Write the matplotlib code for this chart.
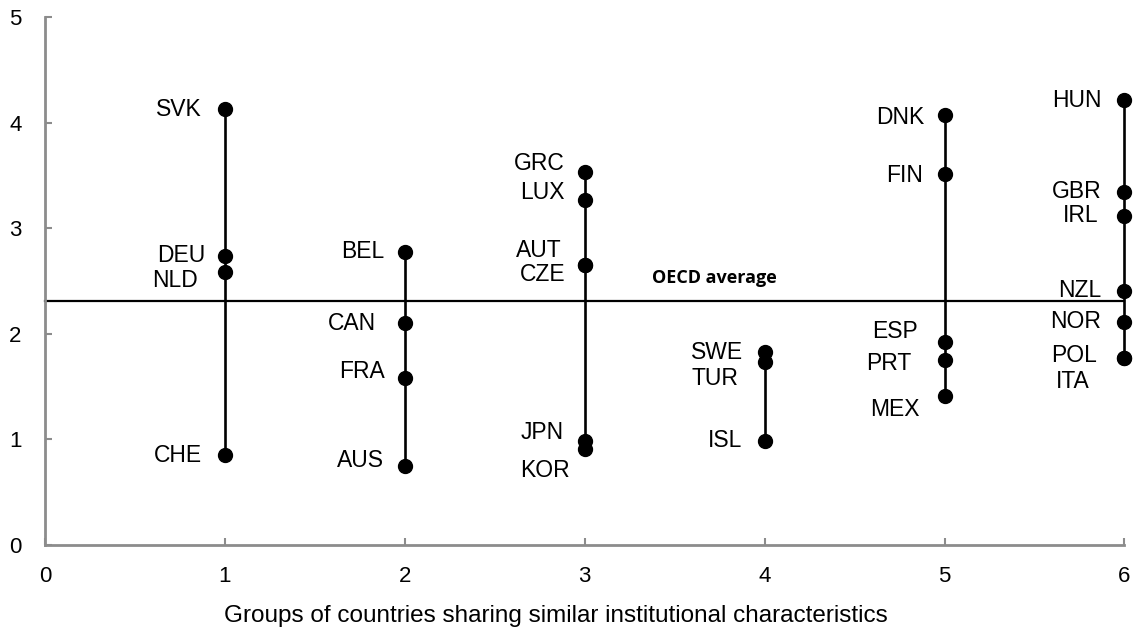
import matplotlib
matplotlib.use("Agg")
import matplotlib.pyplot as plt

plt.rcParams['font.family'] = ['Liberation Sans', 'DejaVu Sans']

# groupes de pays et valeurs
groups = [1, 2, 3, 4, 5, 6]
group_countries = [
    ["SVK", "DEU", "NLD", "CHE"],
    ["BEL", "CAN", "FRA", "AUS"],
    ["GRC", "LUX", "AUT", "CZE", "JPN", "KOR"],
    ["SWE", "TUR", "ISL"],
    ["DNK", "FIN", "ESP", "PRT", "MEX"],
    ["HUN", "GBR", "IRL", "NZL", "NOR", "POL", "ITA"],
]
group_values = [
    [4.13, 2.74, 2.59, 0.85],
    [2.78, 2.10, 1.58, 0.75],
    [3.53, 3.27, 2.65, 2.65, 0.99, 0.91],
    [1.83, 1.73, 0.99],
    [4.07, 3.51, 1.92, 1.75, 1.41],
    [4.22, 3.34, 3.12, 2.41, 2.11, 1.77, 1.77],
]
oecd_average = 2.31

# décalage des étiquettes (pixels)
label_offsets = {
    "SVK": (-23, 0), "DEU": (-20, 0), "NLD": (-27, -9), "CHE": (-23, 0),
    "BEL": (-20, 0), "CAN": (-29, 0), "FRA": (-20, 7), "AUS": (-21, 5),
    "GRC": (-20, 9), "LUX": (-20, 7), "AUT": (-23, 15), "CZE": (-19, -9),
    "JPN": (-21, 8), "KOR": (-15, -22),
    "SWE": (-22, -1), "TUR": (-26, -16), "ISL": (-22, 0),
    "DNK": (-20, -2), "FIN": (-22, -1), "ESP": (-27, 11), "PRT": (-33, -3),
    "MEX": (-25, -13),
    "HUN": (-23, -1), "GBR": (-23, 1), "IRL": (-26, 0), "NZL": (-23, 0),
    "NOR": (-23, 1), "POL": (-27, 3), "ITA": (-35, -23),
}

fig = plt.figure(figsize=(11.37, 6.37), dpi=100)
ax = fig.add_axes([0.0396, 0.1444, 0.9494, 0.8286])

# ligne moyenne OCDE
ax.plot([0, 6], [oecd_average, oecd_average], color='black', lw=1.6, zorder=2,
        clip_on=False)
ax.text(3.72, oecd_average + 0.13, "OECD average", family='Open Sans',
        fontweight='bold', fontsize=13, ha='center', va='bottom')

for g, names, vals in zip(groups, group_countries, group_values):
    ax.plot([g, g], [min(vals), max(vals)], color='black', lw=1.9, zorder=3,
            clip_on=False)
    ax.plot([g] * len(vals), vals, 'o', color='black', markersize=10,
            zorder=4, clip_on=False)
    for n, v in zip(names, vals):
        ax.annotate(n, (g, v), xytext=label_offsets[n], textcoords='offset pixels',
                    ha='right', va='center', fontsize=16.5)

ax.set_xlim(0, 6)
ax.set_ylim(0, 5)
ax.set_xticks(range(0, 7))
ax.set_yticks(range(0, 6))
for s in ['top', 'right']:
    ax.spines[s].set_visible(False)
for s in ['left', 'bottom']:
    ax.spines[s].set_color('#8c8c8c')
    ax.spines[s].set_linewidth(2)
ax.tick_params(axis='both', direction='in', length=5, width=1.5, color='#8c8c8c',
               labelsize=16)
ax.tick_params(axis='y', pad=17)
ax.tick_params(axis='x', pad=15)
ax.set_xlabel("Groups of countries sharing similar institutional characteristics",
              fontsize=17.5)
ax.xaxis.set_label_coords(0.473, -0.113)

fig.savefig("out.png", dpi=100)
